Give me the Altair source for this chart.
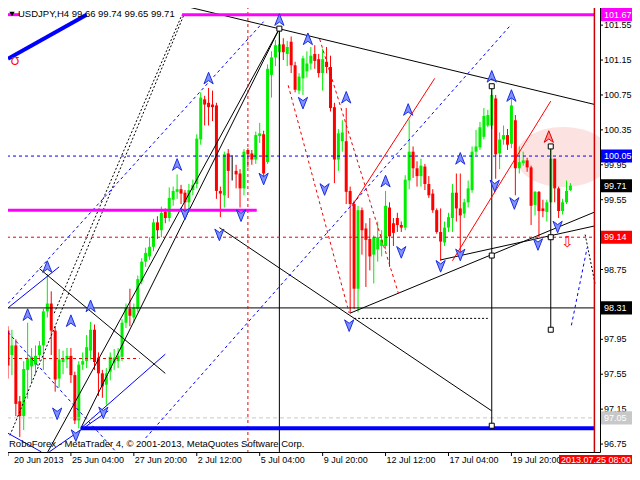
import altair as alt
import pandas as pd

# ---------------- data ----------------
# H4 bars, index 0 = 20 Jun 2013 ... 143 = last bar
opens = [98.05, 97.77, 97.88, 97.24, 97.07, 97.60, 97.64, 97.66, 97.77, 97.88,
         98.27, 98.36, 98.05, 97.50, 97.69, 97.72, 97.76, 97.54, 97.02, 97.66,
         97.70, 97.82, 98.06, 97.74, 97.56, 97.43, 97.58, 97.68, 97.70, 97.75,
         98.14, 98.30, 98.20, 98.30, 98.62, 98.84, 98.90, 99.01, 99.29, 99.20,
         99.41, 99.34, 99.55, 99.64, 99.67, 99.63, 99.52, 99.66, 99.73, 100.24,
         100.70, 100.66, 100.64, 100.63, 99.65, 99.60, 100.08, 99.90, 99.88, 99.85,
         99.68, 100.12, 100.08, 100.01, 100.28, 100.30, 99.98, 100.98, 101.18, 101.24,
         101.33, 101.22, 101.36, 101.09, 100.80, 100.94, 101.02, 101.11, 101.22, 101.16,
         101.00, 101.13, 101.07, 100.61, 100.01, 100.22, 100.22, 99.65, 99.50, 98.53,
         99.43, 99.22, 99.10, 98.92, 98.98, 99.02, 99.02, 99.46, 99.28, 99.34,
         99.26, 99.23, 99.77, 100.10, 99.91, 99.82, 99.93, 99.73, 99.62, 99.43,
         99.18, 99.06, 99.23, 99.34, 99.63, 99.45, 99.39, 99.52, 99.66, 100.10,
         100.15, 100.27, 100.40, 100.40, 100.71, 100.08, 100.24, 100.29, 100.19, 100.46,
         99.91, 99.97, 100.00, 99.92, 99.49, 99.64, 99.45, 99.41, 99.52, 100.02,
         99.68, 99.42, 99.52, 99.66]
highs = [98.10, 98.06, 97.95, 97.30, 97.70, 98.14, 97.85, 97.88, 97.93, 98.30,
         98.70, 98.50, 98.10, 97.84, 97.82, 97.85, 97.85, 97.58, 97.70, 97.80,
         98.00, 98.15, 98.12, 97.80, 97.60, 97.62, 97.80, 97.84, 97.85, 98.18,
         98.36, 98.53, 98.36, 98.68, 98.88, 99.00, 99.12, 99.33, 99.36, 99.47,
         99.45, 99.69, 99.70, 99.84, 99.72, 99.66, 99.73, 99.78, 100.30, 100.78,
         100.74, 100.83, 100.80, 100.66, 99.70, 100.10, 100.13, 100.06, 99.95, 99.90,
         100.13, 100.14, 100.12, 100.33, 100.43, 100.34, 101.10, 101.25, 101.38, 101.51,
         101.40, 101.37, 101.42, 101.13, 101.00, 101.20, 101.25, 101.30, 101.32, 101.22,
         101.28, 101.30, 101.20, 100.66, 100.36, 100.46, 100.60, 99.70, 99.54, 99.48,
         99.46, 99.28, 99.34, 99.14, 99.30, 99.20, 99.65, 99.52, 99.34, 99.40,
         99.30, 99.83, 100.47, 100.16, 99.99, 100.02, 99.96, 99.82, 99.67, 99.45,
         99.45, 99.30, 99.40, 99.73, 99.85, 99.85, 99.56, 99.77, 100.16, 100.35,
         100.44, 100.60, 100.58, 100.85, 100.75, 100.32, 100.40, 100.36, 100.74, 100.52,
         100.16, 100.10, 100.03, 99.94, 99.65, 99.65, 99.55, 99.55, 100.16, 100.02,
         99.70, 99.56, 99.77, 99.74]
lows = [97.50, 97.54, 97.07, 96.83, 96.91, 97.27, 97.45, 97.55, 97.70, 97.60,
        98.20, 97.77, 97.35, 97.40, 97.55, 97.62, 97.45, 96.98, 96.93, 97.60,
        97.62, 97.72, 97.60, 97.30, 97.28, 97.20, 97.48, 97.60, 97.62, 97.70,
        98.08, 98.10, 98.14, 98.26, 98.58, 98.78, 98.86, 98.96, 99.10, 99.12,
        99.28, 99.30, 99.48, 99.56, 99.50, 99.40, 99.45, 99.60, 99.68, 100.18,
        100.40, 100.40, 100.45, 99.56, 99.35, 99.46, 99.57, 99.77, 99.68, 99.46,
        99.60, 99.92, 99.95, 99.96, 100.20, 99.77, 99.96, 100.72, 101.08, 101.15,
        101.15, 101.08, 101.00, 100.78, 100.76, 100.75, 100.95, 101.04, 101.05, 100.95,
        100.80, 101.00, 100.56, 99.74, 99.88, 100.10, 99.50, 98.25, 98.30, 98.26,
        98.92, 98.55, 98.74, 98.59, 98.84, 98.90, 98.98, 98.78, 99.02, 99.18,
        99.18, 99.20, 99.67, 99.80, 99.70, 99.70, 99.66, 99.57, 99.40, 99.16,
        98.85, 99.02, 99.18, 99.18, 99.30, 98.90, 99.34, 99.46, 99.63, 100.06,
        100.12, 100.24, 100.38, 100.36, 99.79, 99.90, 100.18, 100.12, 100.14, 99.60,
        99.85, 99.94, 99.87, 99.26, 99.37, 99.12, 99.35, 99.30, 99.52, 99.52,
        99.34, 99.38, 99.50, 99.65]
closes = [97.65, 97.88, 97.21, 97.07, 97.61, 97.73, 97.75, 97.76, 97.88, 98.27,
          98.36, 98.05, 97.49, 97.72, 97.73, 97.76, 97.54, 97.02, 97.66, 97.70,
          97.86, 98.06, 97.69, 97.56, 97.41, 97.56, 97.75, 97.74, 97.76, 98.14,
          98.31, 98.22, 98.31, 98.64, 98.84, 98.94, 99.01, 99.29, 99.20, 99.40,
          99.34, 99.57, 99.65, 99.67, 99.62, 99.52, 99.66, 99.72, 100.25, 100.72,
          100.64, 100.61, 100.61, 99.65, 99.62, 100.07, 99.88, 99.90, 99.84, 99.68,
          100.10, 100.07, 100.01, 100.29, 100.31, 99.85, 101.05, 101.18, 101.32, 101.33,
          101.24, 101.30, 101.09, 100.81, 100.96, 101.17, 101.11, 101.20, 101.14, 101.00,
          101.16, 101.07, 100.60, 100.01, 100.31, 100.32, 99.64, 99.50, 98.53, 99.43,
          99.20, 99.09, 98.90, 99.12, 99.12, 99.09, 99.48, 99.13, 99.17, 99.26,
          99.23, 99.78, 100.10, 99.91, 99.82, 99.94, 99.73, 99.60, 99.43, 99.18,
          99.07, 99.23, 99.35, 99.63, 99.45, 99.37, 99.52, 99.68, 100.10, 100.16,
          100.38, 100.51, 100.52, 100.75, 100.07, 100.24, 100.29, 100.18, 100.63, 99.91,
          99.98, 100.00, 99.92, 99.48, 99.64, 99.42, 99.42, 99.52, 100.02, 99.68,
          99.42, 99.52, 99.65, 99.71]

time_ticks = [0, 16, 32, 48, 64, 80, 96, 112, 128]
time_labels = ["20 Jun 2013", "25 Jun 04:00", "27 Jun 20:00", "2 Jul 12:00",
               "5 Jul 04:00", "9 Jul 20:00", "12 Jul 12:00", "17 Jul 04:00",
               "19 Jul 20:00"]
price_ticks = [101.55, 101.15, 100.75, 100.35, 99.95, 99.55, 99.15, 98.75,
               98.35, 97.95, 97.55, 97.15, 96.75]
# labels hidden under the level boxes in the picture
price_hidden = [99.15, 98.35]

level_prices = [101.67, 100.05, 99.71, 99.12, 98.31, 97.05]
level_texts = ["101.67", "100.05", "99.71", "99.14", "98.31", "97.05"]
level_colors = ["#ff00ff", "#0000ff", "#000000", "#ff0000", "#000000", "#c8c8c8"]

# drawn objects as (bar1, price1, bar2, price2)
black_solid = [(42, 101.80, 149.25, 100.64), (10, 96.65, 69, 101.51),
               (18.5, 96.93, 69, 101.51), (53.75, 99.23, 123, 97.13),
               (87, 98.25, 149.25, 99.41), (110, 98.86, 149.25, 99.25),
               (8, 98.76, 40, 97.56), (-0.25, 98.31, 149.25, 98.31),
               (69, 101.51, 69, 96.66), (123, 100.85, 123, 96.96),
               (138, 100.16, 138, 98.06)]
black_dashed = [(0.5, 96.85, 44.75, 101.67), (11.75, 98.25, 44.25, 101.67),
                (88, 98.19, 122, 98.19), (146.75, 99.15, 149.25, 98.59)]
red_dashed = [(-0.25, 99.12, 149.25, 99.12), (-0.25, 97.73, 33.5, 97.73),
              (61, 101.838, 61, 96.66), (71.25, 100.86, 86.75, 98.25),
              (79.25, 101.39, 99.25, 98.48)]
red_solid = [(87.5, 99.48, 108.5, 100.94), (113, 98.85, 138, 100.68)]
edge_red = [(149.1, 101.838, 149.1, 96.66)]
blue_solid = [(0, 98.31, 13, 98.78), (-0.25, 96.88, 8.5, 96.66),
              (18.5, 96.93, 40, 97.78), (10.5, 96.66, 25.5, 97.13)]
blue_dashed = [(-0.25, 100.05, 149.25, 100.05), (0, 98.36, 65, 101.59),
               (35, 96.82, 128, 101.56), (0, 98.03, 27.5, 96.66),
               (143.25, 98.11, 147.25, 99.0)]
blue_thick = [(0, 101.165, 20, 101.67), (18.5, 96.93, 149.25, 96.93)]
magenta_thick = [(-0.25, 101.67, 3, 101.67), (44.25, 101.67, 149.25, 101.67),
                 (-0.25, 99.43, 63.25, 99.43)]
grey_dashed = [(-0.25, 97.05, 149.25, 97.05)]

up_bar = [5, 10, 16, 21, 43, 51, 69, 76.25, 86, 96, 101.75, 115, 123, 128]
up_price = [98.23, 98.78, 98.16, 98.33, 99.95, 100.94, 101.61, 101.39, 100.72,
            99.76, 100.58, 100.02, 100.96, 100.74]
down_bar = [12.5, 17.25, 24.25, 45, 53.75, 59.25, 65, 75, 80.5, 86.75, 100, 110,
            115, 123.75, 128.75, 134.75, 139.75]
down_price = [97.10, 96.85, 97.11, 99.39, 99.15, 99.37, 99.79, 100.66, 99.67,
              98.11, 98.95, 98.79, 98.92, 99.71, 99.51, 99.04, 99.24]
sq_bar = [69, 123, 123, 123, 138, 138, 138]
sq_price = [101.51, 100.85, 98.91, 96.96, 100.16, 99.12, 98.06]

# ---------------- chart ----------------
FONT = "Liberation Sans"
PW, PH = 598, 452
xs = alt.Scale(domain=[-0.25, 149.25], nice=False, zero=False)
ys = alt.Scale(domain=[96.659, 101.838], nice=False, zero=False)
X = lambda f: alt.X(f, scale=xs, axis=None)
Y = lambda f: alt.Y(f, scale=ys, axis=None)

cols = ["#00ee00" if c > o else ("#ff0000" if c < o else "#000000")
        for o, c in zip(opens, closes)]
cdf = pd.DataFrame({"i": list(range(len(opens))), "open": opens, "high": highs,
                    "low": lows, "close": closes, "col": cols})

ELLIPSE = "M-1,0A1,0.625,0,1,0,1,0A1,0.625,0,1,0,-1,0Z"
UP = "M0,-1L0.75,0.9L0,0.35L-0.75,0.9Z"
DOWN = "M0,1L0.75,-0.9L0,-0.35L-0.75,-0.9Z"

ell = alt.Chart(pd.DataFrame({"i": [141.25], "p": [100.04]})).mark_point(
    shape=ELLIPSE, size=9216, filled=True, fill="#fde2e2", opacity=1,
    strokeWidth=0, clip=True).encode(x=X("i:Q"), y=Y("p:Q"))

wicks = alt.Chart(cdf).mark_rule(strokeWidth=1).encode(
    x=X("i:Q"), y=Y("low:Q"), y2="high:Q", color=alt.Color("col:N", scale=None))
bodies = alt.Chart(cdf).mark_bar(size=3).encode(
    x=X("i:Q"), y=Y("open:Q"), y2="close:Q", color=alt.Color("col:N", scale=None))


def segs(rows, **mark):
    df = pd.DataFrame(rows, columns=["i1", "p1", "i2", "p2"])
    return alt.Chart(df).mark_rule(**mark).encode(
        x=X("i1:Q"), x2="i2:Q", y=Y("p1:Q"), y2="p2:Q")


lines = [
    segs(grey_dashed, color="#c8c8c8", strokeDash=[4, 3], strokeWidth=1),
    segs(black_solid, color="black", strokeWidth=1),
    segs(black_dashed, color="black", strokeDash=[2, 2], strokeWidth=1),
    segs(red_dashed, color="#ee0000", strokeDash=[3, 3], strokeWidth=1),
    segs(red_solid, color="#ff0000", strokeWidth=1),
    segs(blue_solid, color="#0000ff", strokeWidth=1),
    segs(blue_dashed, color="#0000ff", strokeDash=[3, 3], strokeWidth=1),
    segs(blue_thick, color="#0000ff", strokeWidth=4),
    segs(magenta_thick, color="#ff00ff", strokeWidth=3),
    segs(edge_red, color="#cc0000", strokeWidth=1.5),
]

ups = alt.Chart(pd.DataFrame({"i": up_bar, "p": up_price})).mark_point(
    shape=UP, size=150, filled=True, fill="#8090ff", stroke="#1a2ee0",
    strokeWidth=1, opacity=1).encode(x=X("i:Q"), y=Y("p:Q"))
downs = alt.Chart(pd.DataFrame({"i": down_bar, "p": down_price})).mark_point(
    shape=DOWN, size=150, filled=True, fill="#8090ff", stroke="#1a2ee0",
    strokeWidth=1, opacity=1).encode(x=X("i:Q"), y=Y("p:Q"))
red_up = alt.Chart(pd.DataFrame({"i": [137.5], "p": [100.27]})).mark_point(
    shape=UP, size=150, filled=True, fill="#ff9090", stroke="#e00000",
    strokeWidth=1, opacity=1).encode(x=X("i:Q"), y=Y("p:Q"))
squares = alt.Chart(pd.DataFrame({"i": sq_bar, "p": sq_price})).mark_square(
    size=25, fill="white", stroke="black", strokeWidth=1, opacity=1).encode(
    x=X("i:Q"), y=Y("p:Q"))

red_marks = alt.Chart(pd.DataFrame({"i": [1.75, 142.25], "p": [101.13, 99.06],
                                    "t": ["Ʊ", "⇩"], "s": [11, 15]})).mark_text(
    color="#ff0000", font="DejaVu Sans").encode(
    x=X("i:Q"), y=Y("p:Q"), text="t:N", size=alt.Size("s:Q", scale=None))

# --- hand-built axes (bottom time axis, right price axis) ---
tdf = pd.DataFrame({"i": time_ticks, "t": time_labels})
t_ticks = alt.Chart(tdf).mark_rule(color="black").encode(
    x=X("i:Q"), y=alt.value(PH), y2=alt.value(PH + 4))
t_first = alt.Chart(tdf.iloc[:1]).mark_text(
    align="left", baseline="top", font=FONT, fontSize=9, color="black", dx=6).encode(
    x=X("i:Q"), y=alt.value(PH + 4), text="t:N")
t_rest = alt.Chart(tdf.iloc[1:]).mark_text(
    align="left", baseline="top", font=FONT, fontSize=9, color="black", dx=1).encode(
    x=X("i:Q"), y=alt.value(PH + 4), text="t:N")
pdf = pd.DataFrame({"p": price_ticks})
pdf_lab = pdf[~pdf["p"].isin(price_hidden)]
p_ticks = alt.Chart(pdf).mark_rule(color="black").encode(
    x=alt.value(PW), x2=alt.value(PW + 3), y=Y("p:Q"))
p_labels = alt.Chart(pdf_lab).mark_text(
    align="left", baseline="middle", font=FONT, fontSize=9, color="black").encode(
    x=alt.value(PW + 4), y=Y("p:Q"), text=alt.Text("p:Q", format=".2f"))

title_tri = alt.Chart(pd.DataFrame({"a": [0]})).mark_point(
    shape="triangle-down", size=28, filled=True, color="black", opacity=1).encode(
    x=alt.value(10), y=alt.value(14))
title_txt = alt.Chart(pd.DataFrame({"t": ["USDJPY,H4  99.66 99.74 99.65 99.71"]})).mark_text(
    align="left", baseline="middle", font=FONT, fontSize=9.5, color="black").encode(
    x=alt.value(16), y=alt.value(14), text="t:N")
footer = alt.Chart(pd.DataFrame({"t": ["RoboForex - MetaTrader 4, © 2001-2013, MetaQuotes Software Corp."]})).mark_text(
    align="left", baseline="middle", font=FONT, fontSize=9.5, color="black").encode(
    x=alt.value(7), y=alt.value(PH - 8), text="t:N")

ldf = pd.DataFrame({"p": level_prices, "t": level_texts, "c": level_colors})
ldf["top"] = ldf["p"] + 0.075
ldf["bot"] = ldf["p"] - 0.075
lvl_box = alt.Chart(ldf).mark_rect().encode(
    x=alt.value(PW + 1), x2=alt.value(PW + 40), y=Y("top:Q"), y2="bot:Q",
    color=alt.Color("c:N", scale=None))
lvl_txt = alt.Chart(ldf).mark_text(align="left", baseline="middle", font=FONT,
                                   fontSize=9, color="white").encode(
    x=alt.value(PW + 4), y=Y("p:Q"), text="t:N")

time_box = alt.Chart(pd.DataFrame({"a": [0]})).mark_rect(color="#ff0000").encode(
    x=alt.value(557), x2=alt.value(640), y=alt.value(PH + 3), y2=alt.value(PH + 16))
time_txt = alt.Chart(pd.DataFrame({"t": ["2013.07.25 08:00"]})).mark_text(
    align="center", baseline="middle", font=FONT, fontSize=9, color="white").encode(
    x=alt.value(594), y=alt.value(PH + 8), text="t:N")

chart = alt.layer(
    ell, wicks, bodies, *lines, ups, downs, red_up, squares, red_marks,
    t_ticks, t_first, t_rest, p_ticks, p_labels,
    title_tri, title_txt, footer, lvl_box, lvl_txt, time_box, time_txt
).properties(
    width=PW, height=PH,
    padding={"left": -6, "top": -8, "right": 32, "bottom": 12},
    autosize=alt.AutoSizeParams(type="none"),
    background="white",
).configure_view(stroke="black", strokeWidth=1)

chart.save("out.html", embed_options={"renderer": "svg", "actions": False})
